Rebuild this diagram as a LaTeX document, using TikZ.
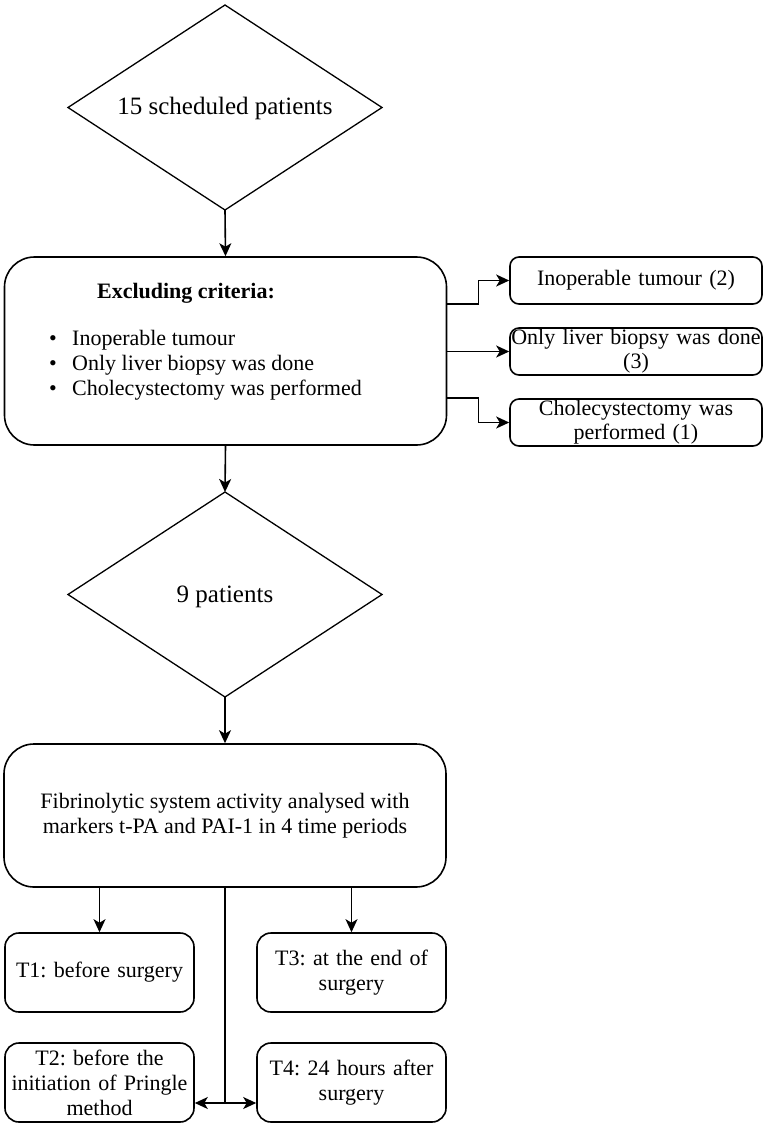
\documentclass[tikz,border=0pt]{standalone}
\usepackage{fontspec}
\setmainfont{Liberation Serif}
\frenchspacing
\usetikzlibrary{shapes.geometric,arrows.meta}
\begin{document}
\begin{tikzpicture}[x=1bp,y=-1bp,
  every node/.style={font=\fontsize{22bp}{25bp}\selectfont},
  line/.style={line width=1.6bp, black},
  arr/.style={line, -{Stealth[length=13bp,width=12bp,inset=3.5bp]}},
  diaborder/.style={draw, line width=1.3bp, line join=miter},
  diatext/.style={inner sep=0pt, font=\fontsize{25bp}{28bp}\selectfont},
  bigbox/.style={draw, line width=1.6bp, rounded corners=30bp, minimum width=442bp, inner sep=0pt},
  sidebox/.style={draw, line width=1.6bp, rounded corners=9bp, minimum width=252bp, minimum height=47bp, inner sep=0pt, align=center, text width=250bp, font=\fontsize{22bp}{24bp}\selectfont},
  tbox/.style={draw, line width=1.6bp, rounded corners=14bp, minimum width=189bp, minimum height=79bp, inner sep=0pt, align=center, text width=187bp},
]
\useasboundingbox (0,0) rectangle (766,1129);

% diamond 1
\coordinate (d1t) at (225,5);
\coordinate (d1r) at (382,107.5);
\coordinate (d1b) at (225,210);
\coordinate (d1l) at (68,107.5);
\draw[diaborder] (d1t) -- (d1r) -- (d1b) -- (d1l) -- cycle;
\node[diatext] (d1) at (225,108) {15 scheduled patients};

\node[bigbox, minimum height=188bp] (excl) at (225.5,351) {};
\node[font=\bfseries\fontsize{22bp}{25bp}\selectfont, inner sep=0pt] (excltitle) at (186,293) {Excluding criteria:};
\node[anchor=west, align=left, inner sep=0pt] (exclitems) at (49,365)
  {\makebox[23bp][l]{\textbullet}Inoperable tumour\\
   \makebox[23bp][l]{\textbullet}Only liver biopsy was done\\
   \makebox[23bp][l]{\textbullet}Cholecystectomy was performed};

\node[sidebox] (b1) at (636,280.5) {Inoperable tumour (2)};
\node[sidebox] (b2) at (636,351.5) {Only liver biopsy was done\\(3)};
\node[sidebox] (b3) at (636,422.5) {Cholecystectomy was\\performed (1)};

% diamond 2
\coordinate (d2t) at (225,492);
\coordinate (d2r) at (382,594.5);
\coordinate (d2b) at (225,697);
\coordinate (d2l) at (68,594.5);
\draw[diaborder] (d2t) -- (d2r) -- (d2b) -- (d2l) -- cycle;
\node[diatext] (d2) at (225,597) {9 patients};

\node[bigbox, minimum height=143bp, align=center] (fib) at (225,815.5)
  {Fibrinolytic system activity analysed with\\markers t-PA and PAI-1 in 4 time periods};

\node[tbox] (t1) at (99.5,972.5) {T1: before surgery};
\node[tbox] (t3) at (351.5,972.5) {T3: at the end of\\surgery};
\node[tbox] (t2) at (99.5,1082.5) {T2: before the\\initiation of Pringle\\method};
\node[tbox] (t4) at (351.5,1082.5) {T4: 24 hours after\\surgery};

\draw[arr] (d1b) -- (excl.north);
\draw[arr] (excl.south) -- (d2t);
\draw[arr] (d2b) -- (fib.north);

\draw[arr] ([yshift=47bp]excl.east) -- ++(31,0) |- (b1.west);
\draw[arr] (excl.east |- b2.west) -- (b2.west);
\draw[arr] ([yshift=-47bp]excl.east) -- ++(31,0) |- (b3.west);

\draw[arr] (fib.south -| t1.north) -- (t1.north);
\draw[arr] (fib.south -| t3.north) -- (t3.north);
\coordinate (split) at (225,1103);
\draw[line] (fib.south) -- (split);
\draw[arr] (split) -- (split -| t2.east);
\draw[arr] (split) -- (split -| t4.west);
\end{tikzpicture}
\end{document}
